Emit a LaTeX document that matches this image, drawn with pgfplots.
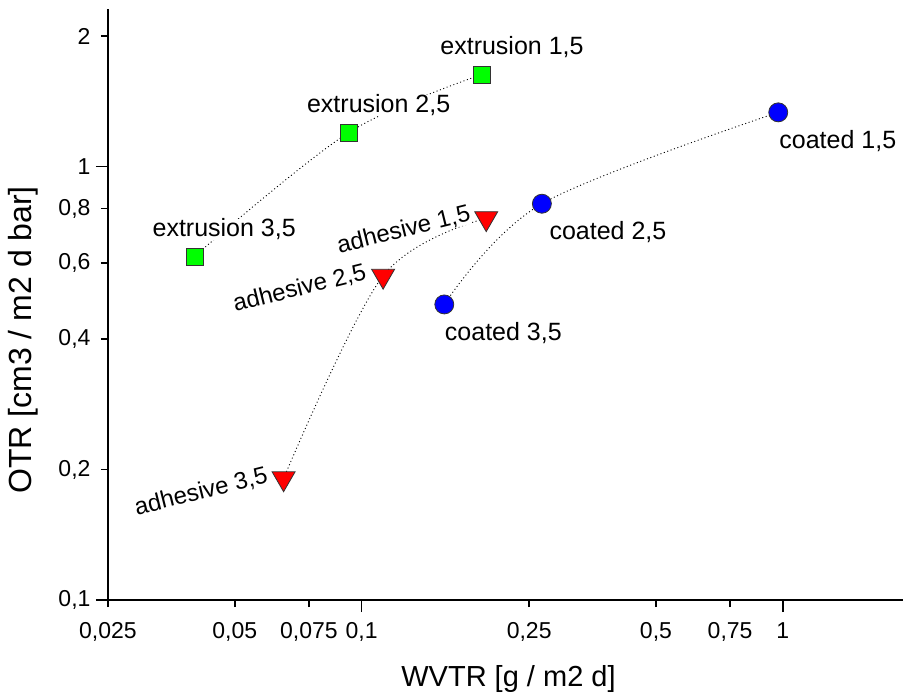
\documentclass[border=0pt]{standalone}
\usepackage{fontspec}
\setmainfont{Liberation Sans}
\usepackage{pgfplots}
\pgfplotsset{compat=1.18}
\usepackage{pgfplotstable}

\pgfplotstableread{
x y
0.0401 0.6205
0.0933 1.199
0.1934 1.632
}\extrusion
\pgfplotstableread{
x y
0.0653 0.1908
0.1125 0.5595
0.1977 0.7597
}\adhesive
\pgfplotstableread{
x y
0.1572 0.4808
0.268 0.821
0.9757 1.334
}\coated

\definecolor{mgreen}{RGB}{0,255,0}
\definecolor{mred}{RGB}{255,0,0}
\definecolor{mblue}{RGB}{0,0,255}

\tikzset{
  conn/.style={black, line width=0.9pt, dash pattern=on 1pt off 2.6pt, smooth, tension=0.55, no marks},
  lab/.style={font=\fontsize{25}{30}\selectfont, fill=white, inner sep=0pt},
  rlab/.style={font=\fontsize{24}{29}\selectfont, fill=white, inner sep=0pt, anchor=base east, rotate=14},
}

\begin{document}
\begin{tikzpicture}
\begin{axis}[
  scale only axis,
  width=795pt, height=591pt,
  xmode=log, ymode=log,
  xmin=0.025, xmax=1.93, ymin=0.1, ymax=2.31,
  axis x line*=bottom, axis y line*=left,
  axis line style={line width=1.6pt},
  tick align=outside,
  major tick length=7pt,
  tick style={line width=1.6pt, black},
  xminorticks=false, yminorticks=false,
  xtick={0.025,0.05,0.075,0.1,0.25,0.5,0.75,1},
  xticklabels={{0,025},{0,05},{0,075},{0,1},{0,25},{0,5},{0,75},{1}},
  ytick={0.1,0.2,0.4,0.6,0.8,1,2},
  yticklabels={{0,1},{0,2},{0,4},{0,6},{0,8},{1},{2}},
  extra x ticks={0.1,1}, extra x tick labels={\empty,\empty},
  extra y ticks={0.1,1}, extra y tick labels={\empty,\empty},
  extra x tick style={major tick length=12pt},
  extra y tick style={major tick length=12pt},
  tick label style={font=\fontsize{23}{28}\selectfont},
  xticklabel style={yshift=-12pt},
  yticklabel style={xshift=-7pt},
  xlabel={WVTR [g / m2 d]}, ylabel={OTR [cm3 / m2 d bar]},
  xlabel style={font=\fontsize{29}{34}\selectfont, at={([xshift=3pt,yshift=-86pt]axis description cs:0.5,0)}, anchor=base},
  ylabel style={font=\fontsize{32}{38}\selectfont, at={([xshift=-76pt]axis description cs:0,0.44)}, anchor=base},
  clip=false,
]
\coordinate (O) at (rel axis cs:0,0);
\coordinate (T) at (rel axis cs:1,1);

\addplot[conn] table {\extrusion};
\addplot[conn] table {\adhesive};
\addplot[conn] table {\coated};

\node[lab, anchor=base west] at ([xshift=-42pt,yshift=19.5pt]axis cs:0.1934,1.632) {extrusion 1,5};
\node[lab, anchor=base west] at ([xshift=-42pt,yshift=19.5pt]axis cs:0.0933,1.199) {extrusion 2,5};
\node[lab, anchor=base west] at ([xshift=-42pt,yshift=19.5pt]axis cs:0.0401,0.6205) {extrusion 3,5};

\node[rlab] at ([xshift=-14.5pt,yshift=-2pt]axis cs:0.1977,0.7597) {adhesive 1,5};
\node[rlab] at ([xshift=-15.5pt,yshift=-3pt]axis cs:0.1125,0.5595) {adhesive 2,5};
\node[rlab] at ([xshift=-14.5pt,yshift=-4pt]axis cs:0.0653,0.1908) {adhesive 3,5};

\node[lab, anchor=base west] at ([xshift=1pt,yshift=-36pt]axis cs:0.9757,1.334) {coated 1,5};
\node[lab, anchor=base west] at ([xshift=7.5pt,yshift=-36pt]axis cs:0.268,0.821) {coated 2,5};
\node[lab, anchor=base west] at ([xshift=0.5pt,yshift=-36pt]axis cs:0.1572,0.4808) {coated 3,5};

\addplot[only marks, mark=square*, mark size=8.5pt, mark options={fill=mgreen, draw=black!80, line width=0.8pt}] table {\extrusion};
\addplot[only marks, mark=triangle*, mark size=13.3pt, mark options={rotate=180, fill=mred, draw=black!80, line width=0.8pt}] table {\adhesive};
\addplot[only marks, mark=*, mark size=9.5pt, mark options={fill=mblue, draw=black!80, line width=0.8pt}] table {\coated};
\end{axis}
\pgfresetboundingbox
\path[use as bounding box] ([xshift=-108pt,yshift=-94pt]O) rectangle ([yshift=9pt]T);
\end{tikzpicture}
\end{document}
